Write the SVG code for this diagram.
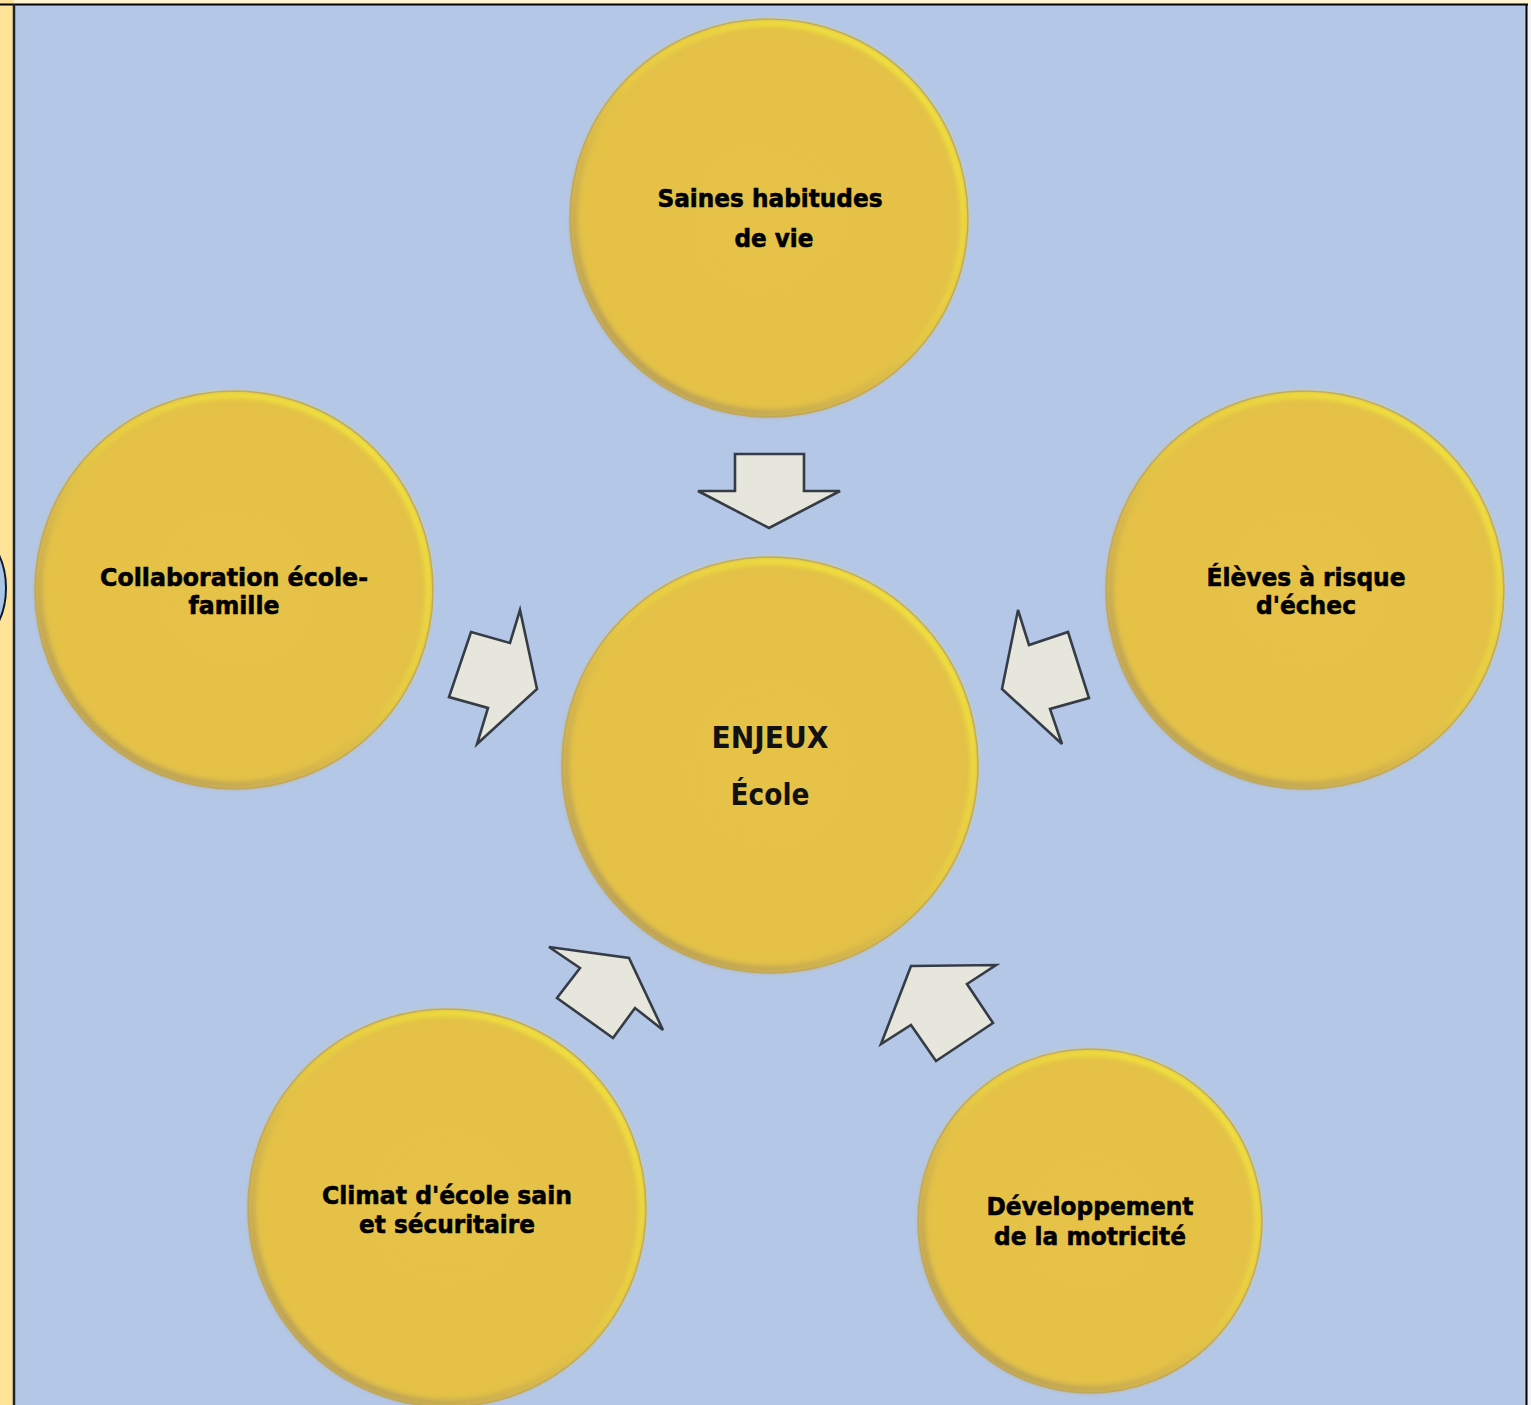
<svg xmlns="http://www.w3.org/2000/svg" width="1531" height="1405" viewBox="0 0 1531 1405">
<defs>
<style>
.ball{fill:url(#ballFill);}
.rim{fill:none;stroke:url(#rimGrad);stroke-width:7;}
.edge{fill:none;stroke:#B9A45E;stroke-width:1.5;opacity:0.8;}
.arrow{fill:#E6E6DC;stroke:#363C46;stroke-width:2.6;stroke-linejoin:miter;}
.lbl{font-family:"DejaVu Sans","Liberation Sans",sans-serif;font-weight:bold;font-size:25px;fill:#000;stroke:#000;stroke-width:0.6;text-anchor:middle;}
.big{font-family:"DejaVu Sans","Liberation Sans",sans-serif;font-weight:bold;font-size:31px;fill:#111;text-anchor:middle;}
</style>
<radialGradient id="ballFill" cx="0.5" cy="0.5" r="0.5">
<stop offset="0" stop-color="#E6C248"/>
<stop offset="0.9" stop-color="#E5C246"/>
<stop offset="0.97" stop-color="#E2C148"/>
<stop offset="1" stop-color="#D4B650"/>
</radialGradient>
<linearGradient id="rimGrad" x1="0.85" y1="0.1" x2="0.15" y2="0.9">
<stop offset="0" stop-color="#F1E23C"/>
<stop offset="0.45" stop-color="#E8CC42"/>
<stop offset="0.65" stop-color="#D9B84A"/>
<stop offset="1" stop-color="#B9A058"/>
</linearGradient>
<filter id="soft" x="-5%" y="-5%" width="110%" height="110%"><feGaussianBlur stdDeviation="2"/></filter>
</defs>
<rect x="0" y="0" width="1531" height="1405" fill="#FFF4D0"/>
<rect x="0" y="0" width="14" height="1405" fill="#FFE399"/>
<rect x="14" y="4" width="1513" height="1401" fill="#B4C7E7"/>
<rect x="1527" y="4" width="4" height="1401" fill="#F4F4F4"/>
<line x1="0" y1="4.5" x2="1528" y2="4.5" stroke="#000" stroke-width="2"/>
<line x1="14" y1="4" x2="14" y2="1405" stroke="#1E2430" stroke-width="2.5"/>
<line x1="1526.5" y1="4" x2="1526.5" y2="1405" stroke="#000" stroke-width="2"/>
<ellipse cx="-40" cy="588" rx="46" ry="62" fill="#A9C6E6" stroke="#0E1A2E" stroke-width="2"/>

<g id="connectors">
<polygon class="arrow" points="735,454 804,454 804,491 840,491 769,528 698,491 735,491"/>
<polygon class="arrow" points="471,632 510,643 520,610 537,689 477,744 488,708 449,697"/>
<polygon class="arrow" points="1018,610 1029,645 1068,632 1089,698 1050,709 1062,744 1002,689"/>
<polygon class="arrow" points="549,947 629,958 663,1030 635,1008 613,1038 557,998 580,968"/>
<polygon class="arrow" points="911,966 996,965 967,984 993,1023 936,1061 911,1025 881,1044"/>
</g>

<g id="node-saines">
<circle class="ball" cx="769" cy="218" r="199"/>
<circle class="rim" cx="769" cy="218" r="195" filter="url(#soft)"/>
<circle class="edge" cx="769" cy="218" r="199"/>
<text class="lbl" x="770" y="207" textLength="225" lengthAdjust="spacingAndGlyphs">Saines habitudes</text>
<text class="lbl" x="774" y="247" textLength="79" lengthAdjust="spacingAndGlyphs">de vie</text>
</g>

<g id="node-collab">
<circle class="ball" cx="234" cy="590" r="199"/>
<circle class="rim" cx="234" cy="590" r="195" filter="url(#soft)"/>
<circle class="edge" cx="234" cy="590" r="199"/>
<text class="lbl" x="234" y="586" textLength="268" lengthAdjust="spacingAndGlyphs">Collaboration école-</text>
<text class="lbl" x="234" y="614" textLength="91" lengthAdjust="spacingAndGlyphs">famille</text>
</g>

<g id="node-eleves">
<circle class="ball" cx="1305" cy="590" r="199"/>
<circle class="rim" cx="1305" cy="590" r="195" filter="url(#soft)"/>
<circle class="edge" cx="1305" cy="590" r="199"/>
<text class="lbl" x="1306" y="586" textLength="199" lengthAdjust="spacingAndGlyphs">Élèves à risque</text>
<text class="lbl" x="1306" y="614" textLength="100" lengthAdjust="spacingAndGlyphs">d'échec</text>
</g>

<g id="node-enjeux">
<circle class="ball" cx="770" cy="765" r="208"/>
<circle class="rim" cx="770" cy="765" r="204" filter="url(#soft)"/>
<circle class="edge" cx="770" cy="765" r="208"/>
<text class="big" x="770" y="748" textLength="117" lengthAdjust="spacingAndGlyphs">ENJEUX</text>
<text class="big" x="770" y="805" textLength="79" lengthAdjust="spacingAndGlyphs">École</text>
</g>

<g id="node-climat">
<circle class="ball" cx="447" cy="1208" r="199"/>
<circle class="rim" cx="447" cy="1208" r="195" filter="url(#soft)"/>
<circle class="edge" cx="447" cy="1208" r="199"/>
<text class="lbl" x="447" y="1204" textLength="250" lengthAdjust="spacingAndGlyphs">Climat d'école sain</text>
<text class="lbl" x="447" y="1233" textLength="176" lengthAdjust="spacingAndGlyphs">et sécuritaire</text>
</g>

<g id="node-motricite">
<circle class="ball" cx="1090" cy="1221" r="172"/>
<circle class="rim" cx="1090" cy="1221" r="168" filter="url(#soft)"/>
<circle class="edge" cx="1090" cy="1221" r="172"/>
<text class="lbl" x="1090" y="1215" textLength="207" lengthAdjust="spacingAndGlyphs">Développement</text>
<text class="lbl" x="1090" y="1245" textLength="192" lengthAdjust="spacingAndGlyphs">de la motricité</text>
</g>
</svg>
